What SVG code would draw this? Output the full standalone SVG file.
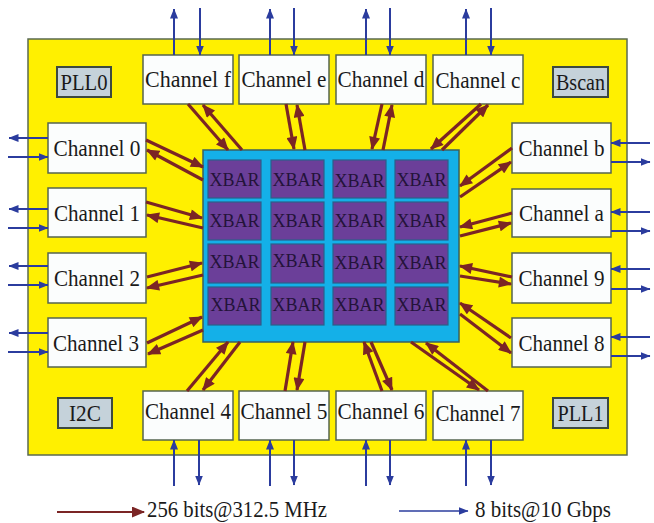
<svg xmlns="http://www.w3.org/2000/svg" width="654" height="523" viewBox="0 0 654 523">
<style>
.ch{fill:#fbfdfd;stroke:#55644f;stroke-width:1.5}
.sm{fill:#c5d2da;stroke:#3d4a40;stroke-width:2}
.cell{fill:#6b3f99;stroke:#2b5f8a;stroke-width:1.2}
.t{font-family:"Liberation Serif","Times New Roman",serif;fill:#1a1a1a;text-anchor:middle}
.ct{font-size:24px}
.xt{font-size:19px;fill:#24133a}
.mr{stroke:#7b2525;stroke-width:3.2;fill:none;marker-end:url(#am)}
.bl{stroke:#2b3c9e;stroke-width:2;fill:none;marker-end:url(#ab)}
</style>
<defs>
<marker id="am" viewBox="0 0 12 10" refX="11" refY="5" markerWidth="14" markerHeight="11" markerUnits="userSpaceOnUse" orient="auto"><path d="M0,0 L12,5 L0,10 z" fill="#7b2525"/></marker>
<marker id="ab" viewBox="0 0 10 8" refX="9.5" refY="4" markerWidth="10" markerHeight="8" markerUnits="userSpaceOnUse" orient="auto"><path d="M0,0 L10,4 L0,8 z" fill="#2b3c9e"/></marker>
</defs>
<rect width="654" height="523" fill="#ffffff"/>
<g id="chip"><rect x="28" y="39" width="599" height="416" fill="#fff000" stroke="#5a6a50" stroke-width="1.5"/></g>
<g id="xbar-array">
<rect x="203" y="150" width="256" height="192" fill="#14b0e8" stroke="#3a6060" stroke-width="1.5"/>
<rect class="cell" x="208" y="160" width="53" height="38"/><rect class="cell" x="271" y="160" width="53" height="38"/><rect class="cell" x="333" y="160" width="53" height="38"/><rect class="cell" x="395" y="160" width="53" height="38"/>
<rect class="cell" x="208" y="202" width="53" height="38"/><rect class="cell" x="271" y="202" width="53" height="38"/><rect class="cell" x="333" y="202" width="53" height="38"/><rect class="cell" x="395" y="202" width="53" height="38"/>
<rect class="cell" x="208" y="244" width="53" height="39"/><rect class="cell" x="271" y="244" width="53" height="39"/><rect class="cell" x="333" y="244" width="53" height="39"/><rect class="cell" x="395" y="244" width="53" height="39"/>
<rect class="cell" x="208" y="287" width="53" height="38"/><rect class="cell" x="271" y="287" width="53" height="38"/><rect class="cell" x="333" y="287" width="53" height="38"/><rect class="cell" x="395" y="287" width="53" height="38"/>
<text class="t xt" x="234.5" y="186" textLength="50" lengthAdjust="spacingAndGlyphs">XBAR</text><text class="t xt" x="297.5" y="186" textLength="50" lengthAdjust="spacingAndGlyphs">XBAR</text><text class="t xt" x="359.5" y="187" textLength="50" lengthAdjust="spacingAndGlyphs">XBAR</text><text class="t xt" x="421.5" y="186" textLength="50" lengthAdjust="spacingAndGlyphs">XBAR</text>
<text class="t xt" x="234.5" y="227" textLength="50" lengthAdjust="spacingAndGlyphs">XBAR</text><text class="t xt" x="297.5" y="227" textLength="50" lengthAdjust="spacingAndGlyphs">XBAR</text><text class="t xt" x="359.5" y="227" textLength="50" lengthAdjust="spacingAndGlyphs">XBAR</text><text class="t xt" x="421.5" y="227" textLength="50" lengthAdjust="spacingAndGlyphs">XBAR</text>
<text class="t xt" x="234.5" y="268" textLength="50" lengthAdjust="spacingAndGlyphs">XBAR</text><text class="t xt" x="297.5" y="267" textLength="50" lengthAdjust="spacingAndGlyphs">XBAR</text><text class="t xt" x="359.5" y="269" textLength="50" lengthAdjust="spacingAndGlyphs">XBAR</text><text class="t xt" x="421.5" y="269" textLength="50" lengthAdjust="spacingAndGlyphs">XBAR</text>
<text class="t xt" x="235.5" y="311" textLength="50" lengthAdjust="spacingAndGlyphs">XBAR</text><text class="t xt" x="297.5" y="311" textLength="50" lengthAdjust="spacingAndGlyphs">XBAR</text><text class="t xt" x="359.5" y="311" textLength="50" lengthAdjust="spacingAndGlyphs">XBAR</text><text class="t xt" x="421.5" y="311" textLength="50" lengthAdjust="spacingAndGlyphs">XBAR</text>
</g>
<g id="PLL0"><rect class="sm" x="57" y="67" width="54" height="30"/><text class="t ct" x="84" y="90" textLength="47" lengthAdjust="spacingAndGlyphs">PLL0</text></g>
<g id="Bscan"><rect class="sm" x="553" y="67" width="55" height="30"/><text class="t ct" x="580.5" y="90" textLength="49" lengthAdjust="spacingAndGlyphs">Bscan</text></g>
<g id="I2C"><rect class="sm" x="58" y="398" width="54" height="30"/><text class="t ct" x="85" y="421" textLength="32" lengthAdjust="spacingAndGlyphs">I2C</text></g>
<g id="PLL1"><rect class="sm" x="553" y="398" width="55" height="30"/><text class="t ct" x="580.5" y="421" textLength="46" lengthAdjust="spacingAndGlyphs">PLL1</text></g>
<g id="channel-f"><rect class="ch" x="143" y="55" width="90" height="49"/><text class="t ct" x="188" y="87" textLength="86" lengthAdjust="spacingAndGlyphs">Channel f</text></g>
<g id="channel-e"><rect class="ch" x="239" y="55" width="90" height="49"/><text class="t ct" x="284" y="87" textLength="85" lengthAdjust="spacingAndGlyphs">Channel e</text></g>
<g id="channel-d"><rect class="ch" x="336" y="55" width="90" height="49"/><text class="t ct" x="381" y="87" textLength="87" lengthAdjust="spacingAndGlyphs">Channel d</text></g>
<g id="channel-c"><rect class="ch" x="433" y="55" width="90" height="49"/><text class="t ct" x="478" y="88" textLength="85" lengthAdjust="spacingAndGlyphs">Channel c</text></g>
<g id="channel-4"><rect class="ch" x="143" y="391" width="90" height="49"/><text class="t ct" x="188" y="419" textLength="86" lengthAdjust="spacingAndGlyphs">Channel 4</text></g>
<g id="channel-5"><rect class="ch" x="239" y="391" width="90" height="49"/><text class="t ct" x="284" y="419" textLength="87" lengthAdjust="spacingAndGlyphs">Channel 5</text></g>
<g id="channel-6"><rect class="ch" x="336" y="391" width="90" height="49"/><text class="t ct" x="381" y="419" textLength="87" lengthAdjust="spacingAndGlyphs">Channel 6</text></g>
<g id="channel-7"><rect class="ch" x="433" y="391" width="90" height="49"/><text class="t ct" x="478" y="421" textLength="85" lengthAdjust="spacingAndGlyphs">Channel 7</text></g>
<g id="channel-0"><rect class="ch" x="48" y="123" width="98" height="50"/><text class="t ct" x="97" y="156" textLength="87" lengthAdjust="spacingAndGlyphs">Channel 0</text></g>
<g id="channel-1"><rect class="ch" x="48" y="188" width="98" height="49"/><text class="t ct" x="97" y="221" textLength="86" lengthAdjust="spacingAndGlyphs">Channel 1</text></g>
<g id="channel-2"><rect class="ch" x="48" y="253" width="98" height="50"/><text class="t ct" x="97" y="286" textLength="86" lengthAdjust="spacingAndGlyphs">Channel 2</text></g>
<g id="channel-3"><rect class="ch" x="48" y="318" width="98" height="49"/><text class="t ct" x="96" y="351" textLength="86" lengthAdjust="spacingAndGlyphs">Channel 3</text></g>
<g id="channel-b"><rect class="ch" x="512" y="123" width="99" height="50"/><text class="t ct" x="561.5" y="156" textLength="86" lengthAdjust="spacingAndGlyphs">Channel b</text></g>
<g id="channel-a"><rect class="ch" x="512" y="189" width="99" height="48"/><text class="t ct" x="561.5" y="221" textLength="85" lengthAdjust="spacingAndGlyphs">Channel a</text></g>
<g id="channel-9"><rect class="ch" x="512" y="253" width="99" height="50"/><text class="t ct" x="561.5" y="286" textLength="86" lengthAdjust="spacingAndGlyphs">Channel 9</text></g>
<g id="channel-8"><rect class="ch" x="512" y="318" width="99" height="49"/><text class="t ct" x="561.5" y="351" textLength="86" lengthAdjust="spacingAndGlyphs">Channel 8</text></g>
<g id="connectors">
<line class="mr" x1="146" y1="140" x2="203" y2="167"/><line class="mr" x1="203" y1="180" x2="147" y2="150"/>
<line class="mr" x1="146" y1="202" x2="202" y2="218"/><line class="mr" x1="203" y1="228" x2="147" y2="215"/>
<line class="mr" x1="147" y1="277" x2="202" y2="263"/><line class="mr" x1="203" y1="275" x2="147" y2="288"/>
<line class="mr" x1="147" y1="343" x2="202" y2="317"/><line class="mr" x1="203" y1="330" x2="148" y2="354"/>
<line class="mr" x1="512" y1="148" x2="460" y2="186"/><line class="mr" x1="460" y1="197" x2="511" y2="162"/>
<line class="mr" x1="512" y1="213" x2="460" y2="227"/><line class="mr" x1="460" y1="236" x2="511" y2="223"/>
<line class="mr" x1="512" y1="277" x2="460" y2="266"/><line class="mr" x1="460" y1="276" x2="511" y2="284"/>
<line class="mr" x1="511" y1="338" x2="460" y2="303"/><line class="mr" x1="460" y1="314" x2="511" y2="353"/>
<line class="mr" x1="188" y1="104" x2="228" y2="150"/><line class="mr" x1="242" y1="150" x2="203" y2="105"/>
<line class="mr" x1="286" y1="104" x2="294" y2="149"/><line class="mr" x1="305" y1="150" x2="297" y2="105"/>
<line class="mr" x1="382" y1="104" x2="372" y2="149"/><line class="mr" x1="383" y1="150" x2="392" y2="105"/>
<line class="mr" x1="481" y1="104" x2="431" y2="149"/><line class="mr" x1="442" y1="150" x2="488" y2="105"/>
<line class="mr" x1="187" y1="391" x2="228" y2="342"/><line class="mr" x1="240" y1="342" x2="203" y2="390"/>
<line class="mr" x1="285" y1="391" x2="293" y2="342"/><line class="mr" x1="305" y1="342" x2="297" y2="390"/>
<line class="mr" x1="382" y1="391" x2="364" y2="342"/><line class="mr" x1="371" y1="342" x2="392" y2="390"/>
<line class="mr" x1="488" y1="391" x2="426" y2="343"/><line class="mr" x1="411" y1="342" x2="479" y2="390"/>
<line class="bl" x1="174" y1="55" x2="174" y2="9"/><line class="bl" x1="200" y1="8" x2="200" y2="55"/>
<line class="bl" x1="270" y1="55" x2="270" y2="9"/><line class="bl" x1="294" y1="8" x2="294" y2="55"/>
<line class="bl" x1="366" y1="55" x2="366" y2="9"/><line class="bl" x1="390" y1="8" x2="390" y2="55"/>
<line class="bl" x1="466" y1="55" x2="466" y2="9"/><line class="bl" x1="491" y1="8" x2="491" y2="55"/>
<line class="bl" x1="174" y1="486" x2="174" y2="440"/><line class="bl" x1="199" y1="440" x2="199" y2="485"/>
<line class="bl" x1="270" y1="486" x2="270" y2="440"/><line class="bl" x1="294" y1="440" x2="294" y2="485"/>
<line class="bl" x1="366" y1="486" x2="366" y2="440"/><line class="bl" x1="390" y1="440" x2="390" y2="485"/>
<line class="bl" x1="466" y1="486" x2="466" y2="440"/><line class="bl" x1="491" y1="440" x2="491" y2="485"/>
<line class="bl" x1="48" y1="138" x2="9" y2="138"/><line class="bl" x1="8" y1="157" x2="48" y2="157"/>
<line class="bl" x1="48" y1="209" x2="9" y2="209"/><line class="bl" x1="8" y1="228" x2="48" y2="228"/>
<line class="bl" x1="48" y1="266" x2="9" y2="266"/><line class="bl" x1="8" y1="285" x2="48" y2="285"/>
<line class="bl" x1="48" y1="333" x2="9" y2="333"/><line class="bl" x1="8" y1="352" x2="48" y2="352"/>
<line class="bl" x1="650" y1="143" x2="611" y2="143"/><line class="bl" x1="611" y1="162" x2="650" y2="162"/>
<line class="bl" x1="650" y1="212" x2="611" y2="212"/><line class="bl" x1="611" y1="231" x2="650" y2="231"/>
<line class="bl" x1="650" y1="269" x2="611" y2="269"/><line class="bl" x1="611" y1="289" x2="650" y2="289"/>
<line class="bl" x1="650" y1="337" x2="611" y2="337"/><line class="bl" x1="611" y1="356" x2="650" y2="356"/>
</g>
<g id="legend">
<line x1="57" y1="512" x2="144" y2="512" stroke="#7b2525" stroke-width="2" marker-end="url(#am)"/>
<text class="t" x="237" y="517" font-size="23" textLength="180" lengthAdjust="spacingAndGlyphs">256 bits@312.5 MHz</text>
<line x1="399" y1="511" x2="468" y2="511" stroke="#2b3c9e" stroke-width="1.5" marker-end="url(#ab)"/>
<text class="t" x="543" y="517" font-size="23" textLength="136" lengthAdjust="spacingAndGlyphs">8 bits@10 Gbps</text>
</g>
</svg>
